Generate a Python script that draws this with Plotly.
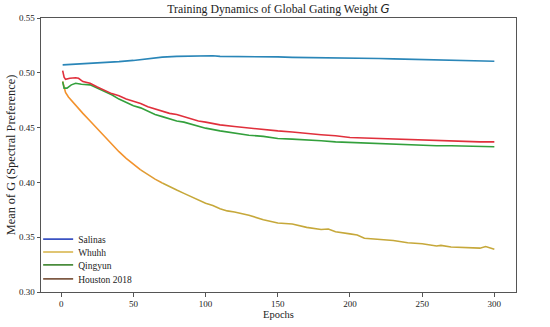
import plotly.graph_objects as go

# ---------------- data ----------------
sal_epochs = [1, 10, 20, 30, 40, 50, 60, 70, 80, 90, 100, 105, 110, 120, 130, 140, 150, 160, 170, 180,
              190, 200, 210, 220, 230, 240, 250, 260, 270, 280, 290, 300]
salinas = [0.5072, 0.5078, 0.5082, 0.5092, 0.5102, 0.5113, 0.5128, 0.5143, 0.5150, 0.5153, 0.5158, 0.5156,
           0.5150, 0.5150, 0.5147, 0.5149, 0.5145, 0.5141, 0.5140, 0.5139, 0.5137, 0.5133, 0.5131, 0.5131,
           0.5127, 0.5124, 0.5121, 0.5120, 0.5116, 0.5112, 0.5110, 0.5106]

whu_epochs = [1, 2, 3, 5, 10, 15, 20, 25, 30, 35, 40, 45, 50, 55, 60, 65, 70, 75, 80, 85, 90, 95, 100,
              105, 110, 115, 120, 130, 140, 150, 160, 170, 180, 185, 190, 200, 205, 210, 220, 230, 240,
              250, 260, 263, 270, 280, 290, 294, 300]
whuhh = [0.492, 0.486, 0.482, 0.478, 0.470, 0.463, 0.456, 0.449, 0.4415, 0.4345, 0.428, 0.422, 0.4165,
         0.4115, 0.407, 0.403, 0.3995, 0.396, 0.393, 0.390, 0.387, 0.384, 0.381, 0.379, 0.376, 0.374,
         0.373, 0.370, 0.366, 0.363, 0.362, 0.359, 0.357, 0.3575, 0.355, 0.353, 0.352, 0.349, 0.348,
         0.347, 0.345, 0.344, 0.342, 0.3425, 0.341, 0.3405, 0.340, 0.3415, 0.339]

qing_epochs = [1, 2, 4, 7, 10, 14, 20, 25, 30, 35, 40, 45, 50, 55, 60, 65, 70, 75, 80, 85, 90, 95, 100,
               110, 120, 130, 140, 150, 160, 170, 180, 190, 200, 210, 220, 230, 240, 250, 260, 270, 280,
               290, 300]
qingyun = [0.492, 0.486, 0.486, 0.489, 0.4905, 0.4895, 0.489, 0.486, 0.483, 0.480, 0.476, 0.473, 0.470,
           0.468, 0.465, 0.462, 0.460, 0.458, 0.456, 0.455, 0.453, 0.451, 0.4495, 0.447, 0.445, 0.443,
           0.442, 0.440, 0.4395, 0.439, 0.438, 0.437, 0.4365, 0.436, 0.435, 0.4345, 0.434, 0.434, 0.4335,
           0.4335, 0.433, 0.433, 0.4325]

hou_epochs = [1, 2, 3, 6, 10, 12, 15, 20, 25, 30, 35, 40, 45, 50, 55, 60, 65, 70, 75, 80, 85, 90, 95,
              100, 110, 120, 130, 140, 150, 160, 170, 180, 190, 200, 210, 220, 230, 240, 250, 260, 270,
              280, 290, 300]
houston = [0.502, 0.496, 0.494, 0.495, 0.4955, 0.495, 0.492, 0.4905, 0.487, 0.484, 0.481, 0.479, 0.476,
           0.474, 0.472, 0.469, 0.467, 0.465, 0.463, 0.462, 0.460, 0.458, 0.456, 0.455, 0.4525, 0.451,
           0.4495, 0.4485, 0.447, 0.446, 0.4445, 0.4435, 0.4425, 0.441, 0.4405, 0.440, 0.4395, 0.439,
           0.4385, 0.438, 0.4378, 0.4375, 0.437, 0.437]

series_names = ["Salinas", "Whuhh", "Qingyun", "Houston 2018"]
x_ticks = [0, 50, 100, 150, 200, 250, 300]
y_ticks = [0.30, 0.35, 0.40, 0.45, 0.50, 0.55]

# ---------------- styling ----------------
FONT = "Liberation Serif, Times New Roman, serif"
line_colors = {"Salinas": "#2a86b8", "Qingyun": "#33a03c", "Houston 2018": "#e0303c"}
legend_colors = {"Salinas": "#3a52c2", "Whuhh": "#d6b244", "Qingyun": "#4a8c3c", "Houston 2018": "#7e5a44"}
# Whuhh line fades from orange to gold
whu_segments = [(0, 14, "#f3922c"), (13, 17, "#e09c34"), (16, len(whu_epochs), "#c6a83a")]

fig = go.Figure()
LW = 1.6
fig.add_trace(go.Scatter(x=sal_epochs, y=salinas, mode="lines", showlegend=False,
                         line=dict(color=line_colors["Salinas"], width=LW)))
for a, b, c in whu_segments:
    fig.add_trace(go.Scatter(x=whu_epochs[a:b], y=whuhh[a:b], mode="lines", showlegend=False,
                             line=dict(color=c, width=LW)))
fig.add_trace(go.Scatter(x=qing_epochs, y=qingyun, mode="lines", showlegend=False,
                         line=dict(color=line_colors["Qingyun"], width=LW)))
fig.add_trace(go.Scatter(x=hou_epochs, y=houston, mode="lines", showlegend=False,
                         line=dict(color=line_colors["Houston 2018"], width=LW)))

# legend: one small legend per entry so rows can sit close together (like the reference)
legend_keys = ["legend", "legend2", "legend3", "legend4"]
legend_rows_y = [0.193, 0.146, 0.099, 0.048]
for name, key in zip(series_names, legend_keys):
    fig.add_trace(go.Scatter(x=[None], y=[None], mode="lines", name=name, legend=key,
                             line=dict(color=legend_colors[name], width=LW)))

axis_common = dict(showline=True, linecolor="#555555", linewidth=1, mirror=True,
                   ticks="outside", ticklen=3.5, tickcolor="#555555", tickwidth=1,
                   showgrid=False, zeroline=False,
                   tickfont=dict(family=FONT, size=9, color="#222222"))

legend_style = dict(x=-0.006, xanchor="left", yanchor="middle", bgcolor="rgba(0,0,0,0)",
                    font=dict(family=FONT, size=9.5, color="#222222"), itemwidth=30)

layout_legends = {key: dict(y=yy, **legend_style) for key, yy in zip(legend_keys, legend_rows_y)}

fig.update_layout(
    width=550, height=327,
    margin=dict(l=41, r=34, t=18, b=35, autoexpand=False),
    paper_bgcolor="white", plot_bgcolor="white",
    title=dict(text="Training Dynamics of Global Gating Weight <i><span style='font-family:DejaVu Sans'>G</span></i>",
               x=0.5, xref="paper", y=0.985, yanchor="top",
               font=dict(family=FONT, size=11.8, color="#222222")),
    xaxis=dict(range=[-14, 315], tickvals=x_ticks, ticktext=[str(v) for v in x_ticks],
               title=dict(text="Epochs", font=dict(family=FONT, size=10.5, color="#222222"), standoff=2),
               **axis_common),
    yaxis=dict(range=[0.30, 0.55], tickvals=y_ticks, ticktext=[f"{v:.2f}" for v in y_ticks],
               title=dict(text="Mean of G (Spectral Preference)", font=dict(family=FONT, size=12.3, color="#222222"),
                          standoff=0),
               **axis_common),
    **layout_legends,
)

fig.write_html("out.html", config={"displayModeBar": False},
               post_script="document.body.style.margin='0';")
